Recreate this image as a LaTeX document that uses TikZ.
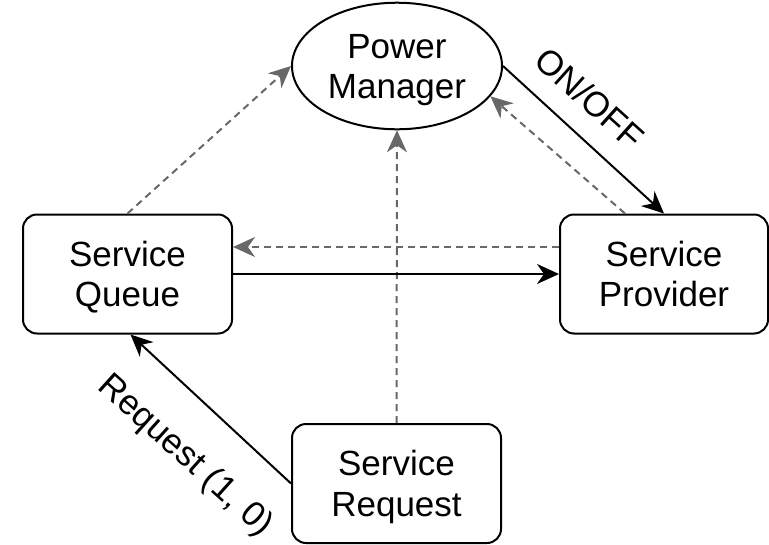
\documentclass[tikz,border=0pt]{standalone}
\usepackage{fontspec}
\setmainfont{Liberation Sans}
\usetikzlibrary{arrows.meta,shapes.geometric}
\definecolor{dgray}{RGB}{104,104,104}
\newcommand{\tline}[2]{\rule{0pt}{37pt}#1\\#2\rule[-12pt]{0pt}{12pt}}
\begin{document}
\begin{tikzpicture}[x=1pt,y=-1pt,
  box/.style={draw, line width=2pt, rounded corners=14pt, minimum width=209pt, minimum height=119pt, align=center, inner sep=0pt, font=\fontsize{35}{40.5}\selectfont},
  oval/.style={draw, ellipse, line width=2pt, minimum width=210pt, minimum height=120pt, align=center, inner sep=0pt, font=\fontsize{35}{40.5}\selectfont},
  lbl/.style={inner sep=0pt, font=\fontsize{35}{40}\selectfont},
  solidarrow/.style={line width=2pt, -{Stealth[length=22pt,width=20pt,inset=7pt]}},
  dasharrow/.style={line width=2pt, dgray, dash pattern=on 7pt off 5pt, -{Stealth[length=22pt,width=20pt,inset=7pt]}}
]
\useasboundingbox (0,0) rectangle (769,544);
\node[oval] (pm) at (397,66) {\tline{Power}{Manager}};
\node[box] (queue) at (127.5,274) {\tline{Service}{Queue}};
\node[box, minimum width=208pt] (provider) at (664,274) {\tline{Service}{Provider}};
\node[box] (request) at (396.5,483.5) {\tline{Service}{Request}};

\draw[dasharrow] (queue.north) -- (pm.west);
\draw[dasharrow] (request.north) -- (pm.south);
\draw[dasharrow] ([xshift=-39pt]provider.north) -- (pm.-18);
\draw[dasharrow] ([yshift=27pt]provider.west) -- ([yshift=27pt]queue.east);
\draw[solidarrow] (pm.east) -- (provider.north);
\draw[solidarrow] (queue.east) -- (provider.west);
\draw[solidarrow] (request.west) -- ([xshift=3pt]queue.south);

\node[lbl, rotate=-42] (onoff) at (590,98) {ON/OFF};
\node[lbl, rotate=-42] (req) at (185,456) {Request (1, 0)};
\end{tikzpicture}
\end{document}
